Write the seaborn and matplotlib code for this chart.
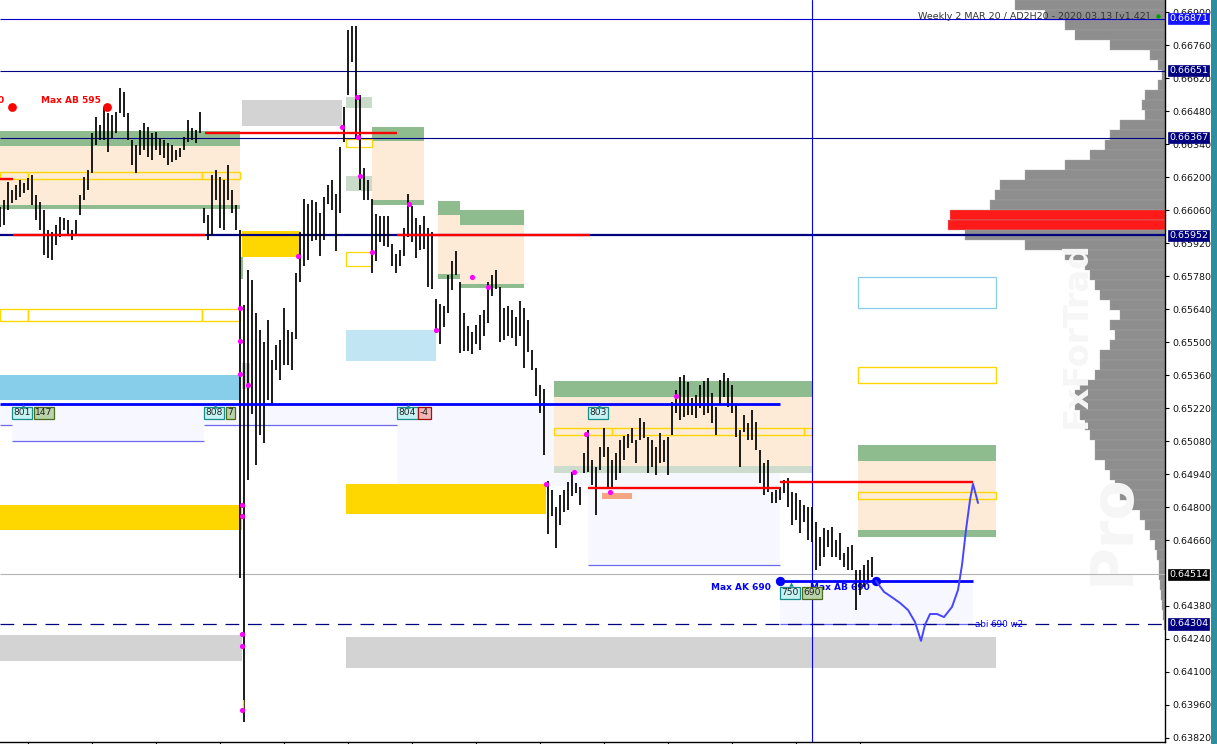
import numpy as np
import pandas as pd
import matplotlib
matplotlib.use("Agg")
import matplotlib.pyplot as plt
import matplotlib.patches as mpatches
import matplotlib.transforms as mtransforms
import seaborn as sns

# ---------------- data (prices in points, /1e5) ----------------
bar_high = [
    66073, 66102, 66179, 66145, 66166, 66187, 66175, 66196, 66209, 66124,
    66094, 66060, 65975, 65967, 65996, 66030, 66026, 66018, 65975, 66018,
    66124, 66200, 66230, 66387, 66455, 66421, 66497, 66472, 66463, 66476,
    66578, 66561, 66472, 66357, 66336, 66399, 66429, 66412, 66387, 66391,
    66366, 66357, 66344, 66336, 66315, 66323, 66370, 66442, 66408, 66399,
    66476, 66069, 66039, 66209, 66230, 66200, 66187, 66251, 66145, 66081,
    65975, 65657, 65806, 65763, 65623, 65551, 65500, 65593, 65424, 65487,
    65509, 65644, 65551, 65543, 65793, 65967, 66107, 66086, 66102, 66094,
    66047, 66115, 66166, 66187, 66128, 66327, 66497, 66824, 66841, 66841,
    66548, 66238, 66187, 66107, 66043, 66035, 66035, 66035, 65916, 65873,
    65890, 65984, 66128, 66077, 66026, 65996, 66035, 65984, 65967, 65683,
    65661, 65653, 65784, 65844, 65886, 65755, 65623, 65568, 65543, 65572,
    65615, 65636, 65755, 65784, 65806, 65733, 65644, 65653, 65636, 65606,
    65674, 65644, 65593, 65466, 65390, 65318, 65301, 64910, 64872, 64800,
    64851, 64872, 64906, 64949, 64902, 64885, 65029, 65127, 64999, 64970,
    65055, 65135, 65055, 64999, 65029, 65084, 65101, 65110, 65135, 65084,
    65178, 65161, 65097, 65084, 65055, 65114, 65084, 65097, 65246, 65296,
    65352, 65360, 65330, 65263, 65275, 65318, 65335, 65347, 65284, 65224,
    65339, 65369, 65347, 65318, 65233, 65127, 65190, 65156, 65212, 65161,
    65042, 64987, 64999, 64864, 64872, 64885, 64915, 64923, 64864, 64859,
    64830, 64809, 64800, 64800, 64736, 64673, 64711, 64702, 64715, 64660,
    64690, 64605, 64630, 64639, 64533, 64533, 64554, 64575, 64588]
bar_low = [
    65988, 65996, 66060, 66090, 66102, 66115, 66132, 66145, 66081, 66018,
    65975, 65869, 65856, 65848, 65912, 65946, 65975, 65950, 65933, 65954,
    66039, 66102, 66145, 66217, 66336, 66357, 66357, 66306, 66366, 66387,
    66472, 66455, 66357, 66251, 66217, 66293, 66315, 66285, 66272, 66315,
    66293, 66281, 66251, 66264, 66272, 66285, 66315, 66349, 66357, 66344,
    66387, 66005, 65933, 65954, 66102, 65984, 65975, 66102, 66047, 65975,
    64499, 63888, 64915, 65195, 64978, 65106, 65072, 65254, 65233, 65381,
    65339, 65403, 65403, 65381, 65513, 65755, 65823, 65848, 65929, 65933,
    65865, 65933, 66086, 66060, 65886, 66047, 66349, 66548, 66688, 66366,
    66145, 66102, 66102, 65793, 65844, 65924, 65907, 65903, 65823, 65793,
    65823, 65865, 65946, 65924, 65856, 65890, 65895, 65733, 65725, 65551,
    65492, 65564, 65623, 65721, 65784, 65453, 65462, 65462, 65449, 65492,
    65466, 65526, 65581, 65695, 65725, 65500, 65509, 65526, 65517, 65483,
    65526, 65390, 65458, 65381, 65271, 65199, 65021, 64686, 64762, 64626,
    64724, 64779, 64787, 64847, 64859, 64809, 64944, 64949, 64893, 64766,
    64957, 65012, 64885, 64885, 64915, 64944, 64999, 65050, 65072, 64987,
    65084, 65093, 64944, 64970, 64936, 64987, 64991, 64936, 65106, 65199,
    65169, 65182, 65190, 65190, 65178, 65220, 65190, 65199, 65156, 65106,
    65233, 65267, 65224, 65199, 65097, 64970, 65118, 65084, 65084, 65042,
    64902, 64851, 64864, 64817, 64817, 64830, 64859, 64800, 64724, 64745,
    64690, 64736, 64660, 64652, 64533, 64550, 64588, 64630, 64588, 64588,
    64575, 64546, 64533, 64533, 64363, 64427, 64461, 64478, 64503]

# volume profile (width units), top to bottom bins
profile_vol = [150, 120, 100, 90, 55, 15, 7, 3, 7, 20, 23, 20, 45, 55, 60, 75,
               100, 140, 165, 170, 175, 215, 217, 200, 140, 100, 80, 75, 70, 65,
               55, 45, 55, 50, 55, 65, 65, 70, 85, 90, 90, 85, 80, 75, 70, 70,
               60, 55, 50, 45, 35, 25, 20, 15, 10, 8, 6, 6, 5, 4, 3, 2, 1]
profile_poc = [21, 22]

y_ticks = [0.66900, 0.66760, 0.66620, 0.66480, 0.66340, 0.66200, 0.66060,
           0.65920, 0.65780, 0.65640, 0.65500, 0.65360, 0.65220, 0.65080,
           0.64940, 0.64800, 0.64660, 0.64380, 0.64240, 0.64100, 0.63960,
           0.63820]

price_tags = [(0.66871, '#1414ff'), (0.66651, '#000080'), (0.66367, '#000080'),
              (0.65952, '#000080'), (0.64514, '#000000'), (0.64304, '#000080')]

magenta_x = [85.5, 89.25, 89.5, 90, 93, 102.25, 109, 118, 122, 136.5, 143.5,
             146.5, 152.5, 169, 60, 60, 60, 62, 74.5, 60.5, 60.5, 60.5, 60.5, 60.5]
magenta_y = [0.66412, 0.66540, 0.66370, 0.66204, 0.65882, 0.66086, 0.65551,
             0.65776, 0.65733, 0.64898, 0.64949, 0.65110, 0.64864, 0.65271,
             0.65644, 0.65505, 0.65366, 0.65318, 0.65865, 0.64809, 0.64763,
             0.64261, 0.64210, 0.63939]

curve_x = [219, 221, 223.25, 225, 227, 228.75, 230.25, 231.25, 232.5, 234.25,
           236, 238, 239.5, 240.5, 241.5, 242.5, 243.25, 244.5]
curve_y = [0.64486, 0.64440, 0.64414, 0.64393, 0.64363, 0.64312, 0.64232,
           0.64300, 0.64346, 0.64346, 0.64333, 0.64376, 0.64448, 0.64554,
           0.64703, 0.64830, 0.64898, 0.64817]

# ---------------- figure ----------------
sns.set_theme(style="white")
plt.rcParams['font.family'] = ['DejaVu Sans']

fig = plt.figure(figsize=(12.17, 7.44), dpi=100)
fig.patch.set_facecolor('white')
ax = fig.add_axes([0, 2 / 744, 1165 / 1217, 742 / 744])
X_RIGHT = 1165 / 4
ax.set_xlim(0, X_RIGHT)
ax.set_ylim(0.63803, 0.66951)
ax.set_facecolor('white')

GREEN = '#8fbc8f'
PEACH = '#fdebd7'
GOLD = '#ffd700'
LAV = '#f7f7ff'
LAVLINE = '#6a6aee'


def rect(x0, x1, p0, p1, fc='none', ec='none', lw=0.0, z=1.0):
    ax.add_patch(mpatches.Rectangle((x0, p0), x1 - x0, p1 - p0, facecolor=fc,
                                    edgecolor=ec, linewidth=lw, zorder=z))


def hline(x0, x1, p, color, lw, z=4, ls='-', dashes=None):
    l, = ax.plot([x0, x1], [p, p], color=color, lw=lw, ls=ls, zorder=z,
                 solid_capstyle='butt')
    if dashes:
        l.set_dashes(dashes)


# lavender boxes
rect(0, 51, 0.65148, 0.65239, LAV, z=0.5)
rect(3, 51, 0.65080, 0.65239, LAV, z=0.5)
rect(51, 99.25, 0.65148, 0.65239, LAV, z=0.5)
rect(99.25, 147, 0.64889, 0.65239, LAV, z=0.5)
rect(147, 195, 0.64554, 0.65239, LAV, z=0.5)
rect(195, 243.25, 0.64304, 0.64484, LAV, z=0.5)
hline(0, 3, 0.65148, LAVLINE, 0.9, z=1)
hline(3, 51, 0.65080, LAVLINE, 0.9, z=1)
hline(51, 99.25, 0.65148, LAVLINE, 0.9, z=1)
hline(99.25, 136.75, 0.64889, LAVLINE, 0.9, z=1)
hline(147, 195, 0.64554, LAVLINE, 0.9, z=1)
hline(195, 243.25, 0.64304, LAVLINE, 0.9, z=1.2)

# zone 1 (left)
rect(0, 60, 0.66332, 0.66395, GREEN, z=1)
rect(0, 60, 0.66081, 0.66332, PEACH, z=1)
rect(0, 60, 0.66064, 0.66081, GREEN, z=1)
rect(0, 7, 0.66192, 0.66221, ec=GOLD, lw=1.0, z=1.5)
rect(7, 50.5, 0.66192, 0.66221, ec=GOLD, lw=1.0, z=1.5)
rect(50.5, 60, 0.66192, 0.66221, ec=GOLD, lw=1.0, z=1.5)
# gray block top
rect(60.5, 85.5, 0.66416, 0.66527, '#d3d3d3', z=1)
rect(86.5, 93, 0.66493, 0.66540, '#c9dcc9', z=1)
rect(86.5, 93, 0.66141, 0.66204, '#c9dcc9', z=1)
rect(86.5, 93, 0.66327, 0.66361, ec=GOLD, lw=0.9, z=1.5)
rect(86.5, 93, 0.65823, 0.65882, ec=GOLD, lw=0.9, z=1.5)
# zone 2
rect(93, 106, 0.66353, 0.66412, GREEN, z=1)
rect(93, 106, 0.66102, 0.66353, PEACH, z=1)
rect(93, 106, 0.66081, 0.66102, GREEN, z=1)
# gold block
rect(60.5, 75, 0.65861, 0.65971, GOLD, z=1)
rect(60, 60.8, 0.65767, 0.65861, '#8fbc8f', z=1)
# zone 3
rect(109.5, 115, 0.66039, 0.66098, GREEN, z=1)
rect(109.5, 115, 0.65789, 0.66039, PEACH, z=1)
rect(109.5, 115, 0.65767, 0.65789, GREEN, z=1)
rect(115, 131, 0.65996, 0.66060, GREEN, z=1)
rect(115, 131, 0.65746, 0.65996, PEACH, z=1)
rect(115, 131, 0.65729, 0.65746, GREEN, z=1)
# blue blocks
rect(86.5, 109, 0.65420, 0.65551, '#c1e5f3', z=1)
rect(0, 60, 0.65254, 0.65360, '#87ceeb', z=1)
rect(0, 7, 0.65589, 0.65640, ec=GOLD, lw=1.0, z=1.5)
rect(7, 50.5, 0.65589, 0.65640, ec=GOLD, lw=1.0, z=1.5)
rect(50.5, 60, 0.65589, 0.65640, ec=GOLD, lw=1.0, z=1.5)
rect(60.5, 62.5, 0.65301, 0.65411, '#d3d3d3', z=1)
# gold blocks lower
rect(0, 60.5, 0.64703, 0.64809, GOLD, z=1)
rect(86.5, 136.5, 0.64770, 0.64898, GOLD, z=1)
# gray blocks bottom
rect(0, 60.5, 0.64147, 0.64257, '#d3d3d3', z=1)
rect(86.5, 249, 0.64117, 0.64249, '#d3d3d3', z=1)
# zone 4
rect(138.5, 203, 0.65267, 0.65335, GREEN, z=1)
rect(138.5, 203, 0.64974, 0.65267, PEACH, z=0.9)
rect(138.5, 203, 0.64944, 0.64974, '#cddccd', z=1)
rect(138.5, 153, 0.65106, 0.65135, ec=GOLD, lw=1.0, z=1.5)
rect(153, 201, 0.65106, 0.65135, ec=GOLD, lw=1.0, z=1.5)
rect(201, 203, 0.65106, 0.65135, ec=GOLD, lw=1.0, z=1.5)
rect(150.5, 158, 0.64834, 0.64860, '#f4a582', z=1)
# right-side projected boxes
rect(214.5, 249, 0.65644, 0.65776, ec='#87ceeb', lw=0.9, z=1.5)
rect(214.5, 249, 0.65326, 0.65394, ec=GOLD, lw=1.0, z=1.5)
rect(214.5, 249, 0.64995, 0.65063, GREEN, z=1)
rect(214.5, 249, 0.64702, 0.64995, PEACH, z=1)
rect(214.5, 249, 0.64673, 0.64702, GREEN, z=1)
rect(214.5, 249, 0.64834, 0.64864, ec=GOLD, lw=1.0, z=1.5)

# volume profile
vol = np.array(profile_vol, dtype=float)
prof_p = 0.66930 - 0.000424 * np.arange(len(vol))
cols = ['#ff1a1a' if i in profile_poc else '#8e8e8e' for i in range(len(vol))]
ax.barh(prof_p, -vol / 4, left=X_RIGHT, height=0.000424, color=cols,
        edgecolor='#a8a8a8', linewidth=0.25, zorder=1)
ax.text(269, 0.65530, 'FxForTrad', rotation=90, fontsize=24, color='#f6f6f6',
        ha='center', va='center', zorder=1.2, fontweight='bold')
ax.text(278, 0.64707, 'Pro', rotation=90, fontsize=42, color='#f6f6f6',
        ha='center', va='center', zorder=1.2, fontweight='bold')

# horizontal reference lines
hline(0, X_RIGHT, 0.66871, '#0000cc', 0.8, z=3)
hline(0, X_RIGHT, 0.66651, '#000080', 0.8, z=3)
hline(0, X_RIGHT, 0.66367, '#000080', 0.8, z=3)
hline(0, X_RIGHT, 0.65952, '#000080', 1.6, z=3)
hline(0, X_RIGHT, 0.64514, '#b4b4b4', 0.8, z=3)
hline(0, X_RIGHT, 0.64304, '#000080', 0.9, z=3, dashes=(11, 7))
ax.axvline(203, color='#0000ff', lw=0.8, zorder=3)

# price bars
idx = np.arange(len(bar_high))
hi = np.array(bar_high) / 1e5
lo = np.array(bar_low) / 1e5
ax.vlines(idx, lo, hi, color='black', lw=1.25, zorder=5)
ax.plot([60.8, 60.8], [0.63939, 0.63981], color=GOLD, lw=1.0, zorder=5.5)

# red levels
RED = '#ff0000'
hline(51.25, 99.25, 0.66387, RED, 1.7, z=6)
hline(3.25, 51.25, 0.65954, RED, 1.7, z=6)
hline(0, 3.25, 0.66192, RED, 1.7, z=6)
hline(99.25, 147.5, 0.65954, RED, 1.7, z=6)
hline(147, 195, 0.64881, RED, 1.7, z=6)
hline(195, 243.25, 0.64906, RED, 1.7, z=6)

# blue levels
BLUE = '#0000ff'
hline(0, 195, 0.65239, BLUE, 2.0, z=6)
hline(195, 243.25, 0.64484, BLUE, 2.0, z=6)

# magenta markers
sns.scatterplot(x=magenta_x, y=magenta_y, color='#ff00ff', s=14, linewidth=0,
                zorder=7, ax=ax, legend=False)
# red and blue dots
sns.scatterplot(x=[3, 26.75], y=[0.66497, 0.66497], color='#ff0000', s=40,
                linewidth=0, zorder=7, ax=ax, legend=False)
sns.scatterplot(x=[195, 219], y=[0.64484, 0.64484], color='#0000ff', s=45,
                linewidth=0, zorder=7, ax=ax, legend=False)

# hand drawn projection
curve = pd.DataFrame({'x': curve_x, 'y': curve_y})
sns.lineplot(data=curve, x='x', y='y', sort=False, estimator=None,
             color='#4646ff', lw=1.4, zorder=8, ax=ax)

# texts
ax.text(0.9, 0.66523, '0', color='#ff0000', fontsize=6.5, fontweight='bold',
        ha='right', va='center', zorder=8)
ax.text(10.25, 0.66523, 'Max AB 595', color='#ff0000', fontsize=6.5,
        fontweight='bold', ha='left', va='center', zorder=8)
ax.text(192.75, 0.64457, 'Max AK 690', color='#0000ff', fontsize=6.5,
        fontweight='bold', ha='right', va='center', zorder=8)
ax.text(202.5, 0.64457, 'Max AB 690', color='#0000ff', fontsize=6.5,
        fontweight='bold', ha='left', va='center', zorder=4)
ax.text(243.75, 0.64302, 'abi 690 w2', color='#0000ff', fontsize=6.3,
        ha='left', va='center', zorder=8)

def tag(x, p, s, fc, ec):
    ax.text(x, p, s, fontsize=6.6, color='#222222', ha='left', va='center',
            zorder=9, bbox=dict(boxstyle='square,pad=0.18', fc=fc, ec=ec, lw=0.9))

CY, CYE = '#c6f2f2', '#1a8c8c'
GR, GRE = '#b9d3a9', '#4d6b1f'
tag(3.3, 0.65199, '801', CY, CYE)
tag(8.8, 0.65199, '147', GR, GRE)
tag(51.3, 0.65199, '808', CY, CYE)
tag(56.8, 0.65199, '7', GR, GRE)
tag(99.6, 0.65199, '804', CY, CYE)
tag(105.0, 0.65199, '-4', '#f2b6b6', '#a01010')
tag(147.3, 0.65199, '803', CY, CYE)
tag(195.3, 0.64436, '750', CY, CYE)
tag(200.8, 0.64436, '690', GR, GRE)
ax.scatter([5.7, 53.7, 102.0, 149.7, 197.7],
           [0.65228, 0.65228, 0.65228, 0.65228, 0.64473],
           marker='^', s=10, color='#1a8c8c', zorder=9, linewidths=0)

ax.text(287.5, 0.66879, 'Weekly 2 MAR 20 / AD2H20 - 2020.03.13 [v1.42]',
        fontsize=6.8, color='#333333', ha='right', va='center', zorder=10)
ax.scatter([289.5], [0.66883], s=10, color='#00a000', zorder=10, linewidths=0)

# axes styling
for s in ['left', 'top']:
    ax.spines[s].set_visible(False)
for s in ['right', 'bottom']:
    ax.spines[s].set_visible(True)
    ax.spines[s].set_color('black')
    ax.spines[s].set_linewidth(1.0)
ax.yaxis.tick_right()
ax.set_yticks(y_ticks)
ax.set_yticklabels([f'{v:.5f}' for v in y_ticks])
ax.tick_params(axis='y', right=True, length=3, width=0.8, pad=2,
               labelsize=6.8, labelcolor='#111111', color='black')
ax.set_xticks(np.arange(7, 220, 16))
ax.tick_params(axis='x', bottom=True, length=3, width=0.8, labelbottom=False,
               color='black')
ax.set_xlabel('')
ax.set_ylabel('')
ax.grid(False)

trans = mtransforms.blended_transform_factory(ax.transAxes, ax.transData)
for p, c in price_tags:
    ax.text(1.0035, p, f'{p:.5f}', transform=trans, fontsize=6.8, color='white',
            ha='left', va='center', zorder=12, clip_on=False,
            bbox=dict(boxstyle='square,pad=0.12', fc=c, ec=c, lw=0.5))

fig.patches.append(mpatches.Rectangle((1211 / 1217, 0), 6 / 1217, 1,
                                      transform=fig.transFigure,
                                      facecolor='#2b8f9f', edgecolor='none'))

fig.savefig('out.png', dpi=100, facecolor='white')
